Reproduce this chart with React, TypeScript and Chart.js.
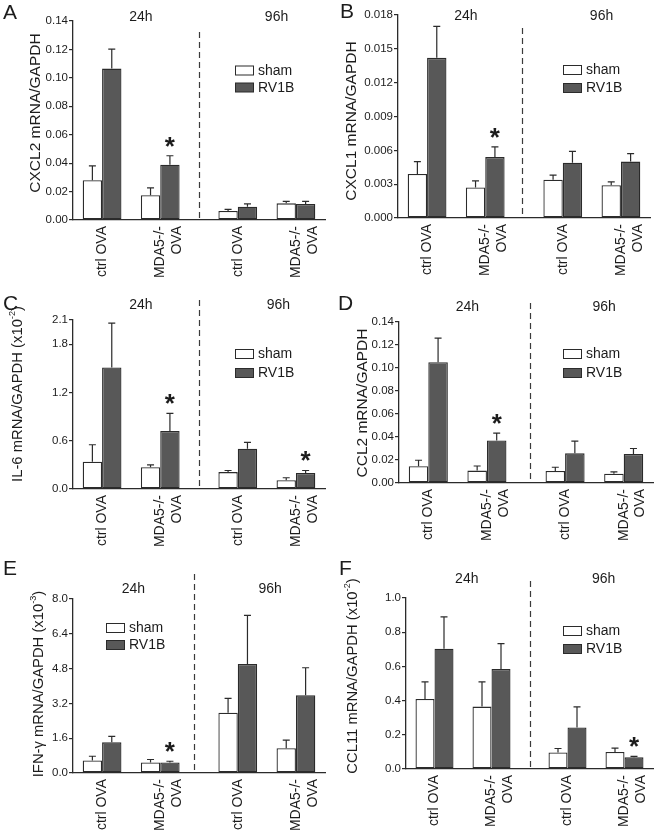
import React, { useEffect, useRef } from "react";
import { Chart, registerables } from "chart.js";

Chart.register(...registerables);

// ---------- shared labels ----------
const GROUP_LABELS: (string | string[])[] = ["ctrl OVA", ["MDA5-/-", "OVA"], "ctrl OVA", ["MDA5-/-", "OVA"]];
const SERIES_NAMES = ["sham", "RV1B"];
const TIME_LABELS = ["24h", "96h"];

// ---------- A: CXCL2 ----------
const A_SHAM = [0.028, 0.0175, 0.0063, 0.0117];
const A_SHAM_ERR = [0.0101, 0.0051, 0.0012, 0.0014];
const A_RV1B = [0.1065, 0.0389, 0.0094, 0.0113];
const A_RV1B_ERR = [0.0137, 0.0063, 0.0019, 0.0018];
const A_TICKS = [0, 0.02, 0.04, 0.06, 0.08, 0.1, 0.12, 0.14];
const A_STARS = [[1, 1]];

// ---------- B: CXCL1 ----------
const B_SHAM = [0.0039, 0.0027, 0.0034, 0.0029];
const B_SHAM_ERR = [0.0011, 0.0006, 0.0004, 0.0003];
const B_RV1B = [0.0142, 0.0054, 0.0049, 0.005];
const B_RV1B_ERR = [0.0028, 0.0009, 0.001, 0.0007];
const B_TICKS = [0, 0.003, 0.006, 0.009, 0.012, 0.015, 0.018];
const B_STARS = [[1, 1]];

// ---------- C: IL-6 (x10^-2) ----------
const C_SHAM = [0.34, 0.27, 0.21, 0.11];
const C_SHAM_ERR = [0.21, 0.03, 0.02, 0.03];
const C_RV1B = [1.51, 0.72, 0.5, 0.2];
const C_RV1B_ERR = [0.55, 0.22, 0.08, 0.03];
const C_TICKS = [0, 0.6, 1.2, 1.8, 2.1];
const C_STARS = [[1, 1], [3, 1]];

// ---------- D: CCL2 ----------
const D_SHAM = [0.0146, 0.0108, 0.0105, 0.0081];
const D_SHAM_ERR = [0.0052, 0.004, 0.0032, 0.0015];
const D_RV1B = [0.105, 0.037, 0.0258, 0.0253];
const D_RV1B_ERR = [0.021, 0.0064, 0.0107, 0.0047];
const D_TICKS = [0, 0.02, 0.04, 0.06, 0.08, 0.1, 0.12, 0.14];
const D_STARS = [[1, 1]];

// ---------- E: IFN-gamma (x10^-3) ----------
const E_SHAM = [0.58, 0.48, 2.77, 1.14];
const E_SHAM_ERR = [0.19, 0.14, 0.66, 0.37];
const E_RV1B = [1.41, 0.48, 5.01, 3.57];
const E_RV1B_ERR = [0.27, 0.06, 2.24, 1.27];
const E_TICKS = [0, 1.6, 3.2, 4.8, 6.4, 8.0];
const E_STARS = [[1, 1]];

// ---------- F: CCL11 (x10^-2) ----------
const F_SHAM = [0.41, 0.365, 0.097, 0.1];
const F_SHAM_ERR = [0.1, 0.145, 0.023, 0.022];
const F_RV1B = [0.703, 0.585, 0.243, 0.068];
const F_RV1B_ERR = [0.187, 0.148, 0.12, 0.006];
const F_TICKS = [0, 0.2, 0.4, 0.6, 0.8, 1.0];
const F_STARS = [[3, 1]];

// ---------- styling ----------
const FONT = '"Liberation Sans", Arial, Helvetica, sans-serif';
const TEXT = "#1c1c1c";
const AXIS = "#2b2b2b";
const DARK_FILL = "#585858";

const N_SLOTS = 13;
const GROUP_SLOTS = [1, 4, 8, 11];

type TitlePart = { t: string; sup?: boolean };

interface Panel {
  letter: string;
  x: number; y: number; w: number; h: number;
  padTop: number; padRight: number; yWidth: number; xHeight: number;
  sham: number[]; shamErr: number[]; rv1b: number[]; rv1bErr: number[];
  ticks: number[]; decimals: number; stars: number[][];
  title: TitlePart[]; titleX: number; titleY: number;
  letterX: number; letterY: number;
  headerPos: number[]; headerY: number;
  divider: number; dashTop: number;
  legX: number; legY: number[];
}

const PANELS: Panel[] = [
  {
    letter: "A", x: 0, y: 0, w: 330, h: 280,
    padTop: 21, padRight: 5, yWidth: 73, xHeight: 60,
    sham: A_SHAM, shamErr: A_SHAM_ERR, rv1b: A_RV1B, rv1bErr: A_RV1B_ERR,
    ticks: A_TICKS, decimals: 2, stars: A_STARS,
    title: [{ t: "CXCL2 mRNA/GAPDH" }], titleX: 36, titleY: 113,
    letterX: 3, letterY: 19, headerPos: [3, 10], headerY: 17,
    divider: 6, dashTop: 32, legX: 235, legY: [70.5, 87.5],
  },
  {
    letter: "B", x: 330, y: 0, w: 331, h: 280,
    padTop: 15, padRight: 11, yWidth: 68, xHeight: 62,
    sham: B_SHAM, shamErr: B_SHAM_ERR, rv1b: B_RV1B, rv1bErr: B_RV1B_ERR,
    ticks: B_TICKS, decimals: 3, stars: B_STARS,
    title: [{ t: "CXCL1 mRNA/GAPDH" }], titleX: 22, titleY: 121,
    letterX: 10, letterY: 18, headerPos: [3, 10], headerY: 16,
    divider: 5.92, dashTop: 28, legX: 233, legY: [70, 88],
  },
  {
    letter: "C", x: 0, y: 280, w: 330, h: 276,
    padTop: 40, padRight: 5, yWidth: 73, xHeight: 67,
    sham: C_SHAM, shamErr: C_SHAM_ERR, rv1b: C_RV1B, rv1bErr: C_RV1B_ERR,
    ticks: C_TICKS, decimals: 1, stars: C_STARS,
    title: [{ t: "IL-6 mRNA/GAPDH (x10" }, { t: "-2", sup: true }, { t: ")" }], titleX: 18, titleY: 114,
    letterX: 3, letterY: 30, headerPos: [3, 10.1], headerY: 25,
    divider: 6, dashTop: 20, legX: 235, legY: [74, 93],
  },
  {
    letter: "D", x: 330, y: 280, w: 331, h: 276,
    padTop: 42, padRight: 8, yWidth: 69, xHeight: 73,
    sham: D_SHAM, shamErr: D_SHAM_ERR, rv1b: D_RV1B, rv1bErr: D_RV1B_ERR,
    ticks: D_TICKS, decimals: 2, stars: D_STARS,
    title: [{ t: "CCL2 mRNA/GAPDH" }], titleX: 33, titleY: 123,
    letterX: 8, letterY: 30, headerPos: [3, 10], headerY: 27,
    divider: 6.2, dashTop: 23, legX: 233, legY: [74, 93],
  },
  {
    letter: "E", x: 0, y: 556, w: 330, h: 280,
    padTop: 43, padRight: 5, yWidth: 73, xHeight: 63,
    sham: E_SHAM, shamErr: E_SHAM_ERR, rv1b: E_RV1B, rv1bErr: E_RV1B_ERR,
    ticks: E_TICKS, decimals: 1, stars: E_STARS,
    title: [{ t: "IFN-γ mRNA/GAPDH (x10" }, { t: "-3", sup: true }, { t: ")" }], titleX: 39, titleY: 128,
    letterX: 3, letterY: 19, headerPos: [2.62, 9.67], headerY: 33,
    divider: 5.72, dashTop: 18, legX: 106, legY: [72, 89],
  },
  {
    letter: "F", x: 330, y: 556, w: 331, h: 280,
    padTop: 42, padRight: 8, yWidth: 76, xHeight: 67,
    sham: F_SHAM, shamErr: F_SHAM_ERR, rv1b: F_RV1B, rv1bErr: F_RV1B_ERR,
    ticks: F_TICKS, decimals: 1, stars: F_STARS,
    title: [{ t: "CCL11 mRNA/GAPDH (x10" }, { t: "-2", sup: true }, { t: ")" }], titleX: 23, titleY: 120,
    letterX: 9, letterY: 19, headerPos: [2.7, 9.9], headerY: 23,
    divider: 6.03, dashTop: 25, legX: 233, legY: [75, 93],
  },
];

function padSlots<T>(vals: T[], fill: T): T[] {
  const out: T[] = new Array(N_SLOTS).fill(fill);
  GROUP_SLOTS.forEach((s, i) => { out[s] = vals[i]; });
  return out;
}

function makeDecor(p: Panel) {
  return {
    id: "decor" + p.letter,
    afterDatasetsDraw(chart: any) {
      const ctx: CanvasRenderingContext2D = chart.ctx;
      const xs = chart.scales.x;
      const ys = chart.scales.y;
      const area = chart.chartArea;
      ctx.save();

      // error bars (upper only)
      ctx.strokeStyle = AXIS;
      ctx.lineWidth = 1.2;
      chart.data.datasets.forEach((ds: any, di: number) => {
        const meta = chart.getDatasetMeta(di);
        ds.errors.forEach((e: number | null, j: number) => {
          const v = ds.data[j];
          if (e == null || v == null) return;
          const el = meta.data[j];
          const top = ys.getPixelForValue(v + e);
          const base = ys.getPixelForValue(v);
          ctx.beginPath();
          ctx.moveTo(el.x, base);
          ctx.lineTo(el.x, top);
          ctx.moveTo(el.x - 3.5, top);
          ctx.lineTo(el.x + 3.5, top);
          ctx.stroke();
        });
      });

      // dashed divider
      const dx = Math.round(xs.getPixelForValue(p.divider)) + 0.5;
      ctx.setLineDash([6, 4]);
      ctx.lineWidth = 1.2;
      ctx.strokeStyle = "#3a3a3a";
      ctx.beginPath();
      ctx.moveTo(dx, p.dashTop);
      ctx.lineTo(dx, area.bottom);
      ctx.stroke();
      ctx.setLineDash([]);

      // time headers
      ctx.fillStyle = TEXT;
      ctx.font = `14px ${FONT}`;
      ctx.textAlign = "center";
      ctx.textBaseline = "middle";
      TIME_LABELS.forEach((t, i) => {
        ctx.fillText(t, xs.getPixelForValue(p.headerPos[i]), p.headerY);
      });

      // significance stars
      ctx.font = `bold 26px ${FONT}`;
      ctx.textBaseline = "alphabetic";
      p.stars.forEach(([g, s]) => {
        const ds: any = chart.data.datasets[s];
        const slot = GROUP_SLOTS[g];
        const el = chart.getDatasetMeta(s).data[slot];
        const top = ys.getPixelForValue(ds.data[slot] + ds.errors[slot]);
        const cy = top - 16;
        ctx.fillText("*", el.x, cy + 15);
      });

      // legend
      ctx.textAlign = "left";
      ctx.textBaseline = "middle";
      ctx.font = `14px ${FONT}`;
      chart.data.datasets.forEach((ds: any, i: number) => {
        const ry = p.legY[i];
        ctx.fillStyle = ds.backgroundColor;
        ctx.fillRect(p.legX, ry - 4.5, 19, 9);
        ctx.strokeStyle = AXIS;
        ctx.lineWidth = 1;
        ctx.strokeRect(p.legX + 0.5, ry - 4.5, 18, 9);
        ctx.fillStyle = TEXT;
        ctx.fillText(ds.label, p.legX + 23, ry + 0.5);
      });

      // panel letter
      ctx.font = `21px ${FONT}`;
      ctx.textBaseline = "alphabetic";
      ctx.fillStyle = TEXT;
      ctx.fillText(p.letter, p.letterX, p.letterY);

      // y-axis title with optional superscript
      const size = p.title.length > 1 ? 14.8 : 15.5;
      const supSize = size * 0.62;
      let total = 0;
      const widths = p.title.map((part) => {
        ctx.font = `${part.sup ? supSize : size}px ${FONT}`;
        const w = ctx.measureText(part.t).width;
        total += w;
        return w;
      });
      ctx.translate(p.titleX, p.titleY);
      ctx.rotate(-Math.PI / 2);
      ctx.textBaseline = "middle";
      let cx = -total / 2;
      p.title.forEach((part, i) => {
        ctx.font = `${part.sup ? supSize : size}px ${FONT}`;
        ctx.fillText(part.t, cx, part.sup ? -size * 0.36 : 0);
        cx += widths[i];
      });

      ctx.restore();
    },
  };
}

function makeConfig(p: Panel): any {
  const top = p.ticks[p.ticks.length - 1];
  const barCommon = {
    borderColor: AXIS,
    borderWidth: 1.3,
    borderSkipped: false,
    categoryPercentage: 2,
    barPercentage: 1,
  };
  return {
    type: "bar",
    data: {
      labels: padSlots<any>(GROUP_LABELS, ""),
      datasets: [
        {
          label: SERIES_NAMES[0],
          data: padSlots<any>(p.sham, null),
          errors: padSlots<any>(p.shamErr, null),
          backgroundColor: "#ffffff",
          ...barCommon,
        },
        {
          label: SERIES_NAMES[1],
          data: padSlots<any>(p.rv1b, null),
          errors: padSlots<any>(p.rv1bErr, null),
          backgroundColor: DARK_FILL,
          ...barCommon,
        },
      ],
    },
    options: {
      responsive: false,
      animation: false,
      devicePixelRatio: 1,
      layout: { padding: { top: p.padTop, right: p.padRight, left: 0, bottom: 0 } },
      plugins: { legend: { display: false }, tooltip: { enabled: false } },
      scales: {
        x: {
          type: "category",
          offset: true,
          grid: { display: false, drawTicks: false },
          border: { display: true, color: AXIS, width: 1.3 },
          ticks: {
            autoSkip: false,
            minRotation: 90,
            maxRotation: 90,
            padding: 6,
            color: TEXT,
            font: (c: any) => ({
              size: 14,
              family: FONT,
              lineHeight: c && c.tick && Array.isArray(c.tick.label) ? 1.2 : 0.01,
            }),
          },
          afterFit: (s: any) => { s.height = p.xHeight; },
        },
        y: {
          min: 0,
          max: top,
          afterBuildTicks: (s: any) => { s.ticks = p.ticks.map((v) => ({ value: v })); },
          grid: { drawOnChartArea: false, drawTicks: true, tickLength: 4, color: AXIS, lineWidth: 1.2 },
          border: { display: true, color: AXIS, width: 1.3 },
          ticks: {
            padding: 1,
            color: TEXT,
            font: { size: 11.5, family: FONT },
            callback: (v: any) => Number(v).toFixed(p.decimals),
          },
          afterFit: (s: any) => { s.width = p.yWidth; },
        },
      },
    },
    plugins: [makeDecor(p)],
  };
}

function PanelChart({ p }: { p: Panel }) {
  const ref = useRef<HTMLCanvasElement>(null);
  useEffect(() => {
    const chart = new Chart(ref.current as HTMLCanvasElement, makeConfig(p));
    return () => chart.destroy();
  }, [p]);
  return (
    <canvas
      ref={ref}
      width={p.w}
      height={p.h}
      style={{ position: "absolute", left: p.x, top: p.y, width: p.w, height: p.h }}
    />
  );
}

export default function App() {
  return (
    <div style={{ position: "absolute", left: 0, top: 0, width: 661, height: 836, background: "#ffffff" }}>
      {PANELS.map((p) => (
        <PanelChart key={p.letter} p={p} />
      ))}
    </div>
  );
}
